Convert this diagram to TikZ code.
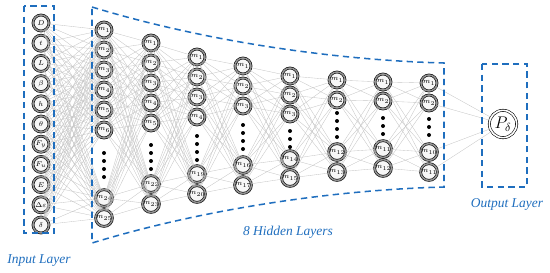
\documentclass[tikz,border=0pt]{standalone}
\usepackage{fontspec}
\setmainfont{Liberation Serif}
\definecolor{boxblue}{RGB}{31,110,190}

\begin{document}
\begin{tikzpicture}[x=0.3mm, y=-0.3mm,
  neuron/.style={circle, draw=black, double=gray!85, double distance=1.3pt,
    line width=0.5pt, fill=gray!6, minimum size=4.8mm, inner sep=0pt,
    font=\fontsize{6.5}{7}\selectfont},
  link/.style={gray!45, line width=0.3pt},
  layerbox/.style={boxblue, line width=1.3pt, dash pattern=on 1.9mm off 1.3mm},
  layername/.style={boxblue, font=\fontsize{11.5}{13}\selectfont\itshape}]
  \useasboundingbox (0,0) rectangle (550,272);

  % input layer
  \foreach \lab [count=\i] in {D, t, L, \beta, h, \theta, F_y, F_u, E, \Delta\varepsilon, \delta}
    \node[neuron] (in\i) at (41,{23+20.2*(\i-1)}) {$\lab$};

  % hidden layers: number / x / upper nodes / dots / last two nodes
  \foreach \l/\x/\n/\tops/\dd/\ya/\na/\yb/\nb in {
      1/104/6/{30,50,70,90,110,130}/{153,161,169,177}/198/24/218/25,
      2/151/5/{43,63,83,103,123}/{145,153,161,169}/184/22/204/23,
      3/197/4/{57,77,97,117}/{136,144,152,160}/174/19/194/20,
      4/243/3/{66,86,106}/{125,133,141,149}/165/16/185/17,
      5/290/3/{76,95,114}/{131,139,147}/159/14/178/15,
      6/337/2/{80,100}/{113,121,129,137}/152/12/172/13,
      7/383/2/{82,101}/{118,126,134}/149/11/168/12,
      8/429/2/{83,103}/{119,127,135}/152/10/172/11} {
    \foreach \y [count=\i] in \tops
      \node[neuron] (h\l-\i) at (\x,\y) {$m_{\i}$};
    \foreach \y in \dd
      \fill (\x,\y) circle (2);
    \pgfmathtruncatemacro\ka{\n+1}
    \pgfmathtruncatemacro\kb{\n+2}
    \node[neuron] (h\l-\ka) at (\x,\ya) {$m_{\na}$};
    \node[neuron] (h\l-\kb) at (\x,\yb) {$m_{\nb}$};
  }

  % output layer
  \node[circle, draw=black, double, double distance=1.4pt, line width=0.5pt,
    minimum size=8.2mm, inner sep=0pt, font=\Large] (out) at (503,124) {$P_\delta$};

  % connections
  \foreach \i in {1,...,11}
    \foreach \j in {1,...,8}
      \draw[link] (in\i) -- (h1-\j);
  \foreach \l/\k/\n/\m in {1/2/8/7, 2/3/7/6, 3/4/6/5, 4/5/5/5, 5/6/5/4, 6/7/4/4, 7/8/4/4}
    \foreach \i in {1,...,\n}
      \foreach \j in {1,...,\m}
        \draw[link] (h\l-\i) -- (h\k-\j);
  \foreach \j in {1,...,4}
    \draw[link] (h8-\j) -- (out);

  % layer boxes
  \draw[layerbox] (24,6) rectangle (54,233);
  \draw[layerbox] (92,7) .. controls (200,40) and (330,60) .. (444,63)
    -- (444,187) .. controls (330,190) and (200,210) .. (92,243) -- cycle;
  \draw[layerbox] (482,64) rectangle (527,187);

  \node[layername] (inname) at (39,261) {Input Layer};
  \node[layername] (hidname) at (288,232) {8 Hidden Layers};
  \node[layername] (outname) at (507,204) {Output Layer};
\end{tikzpicture}
\end{document}
